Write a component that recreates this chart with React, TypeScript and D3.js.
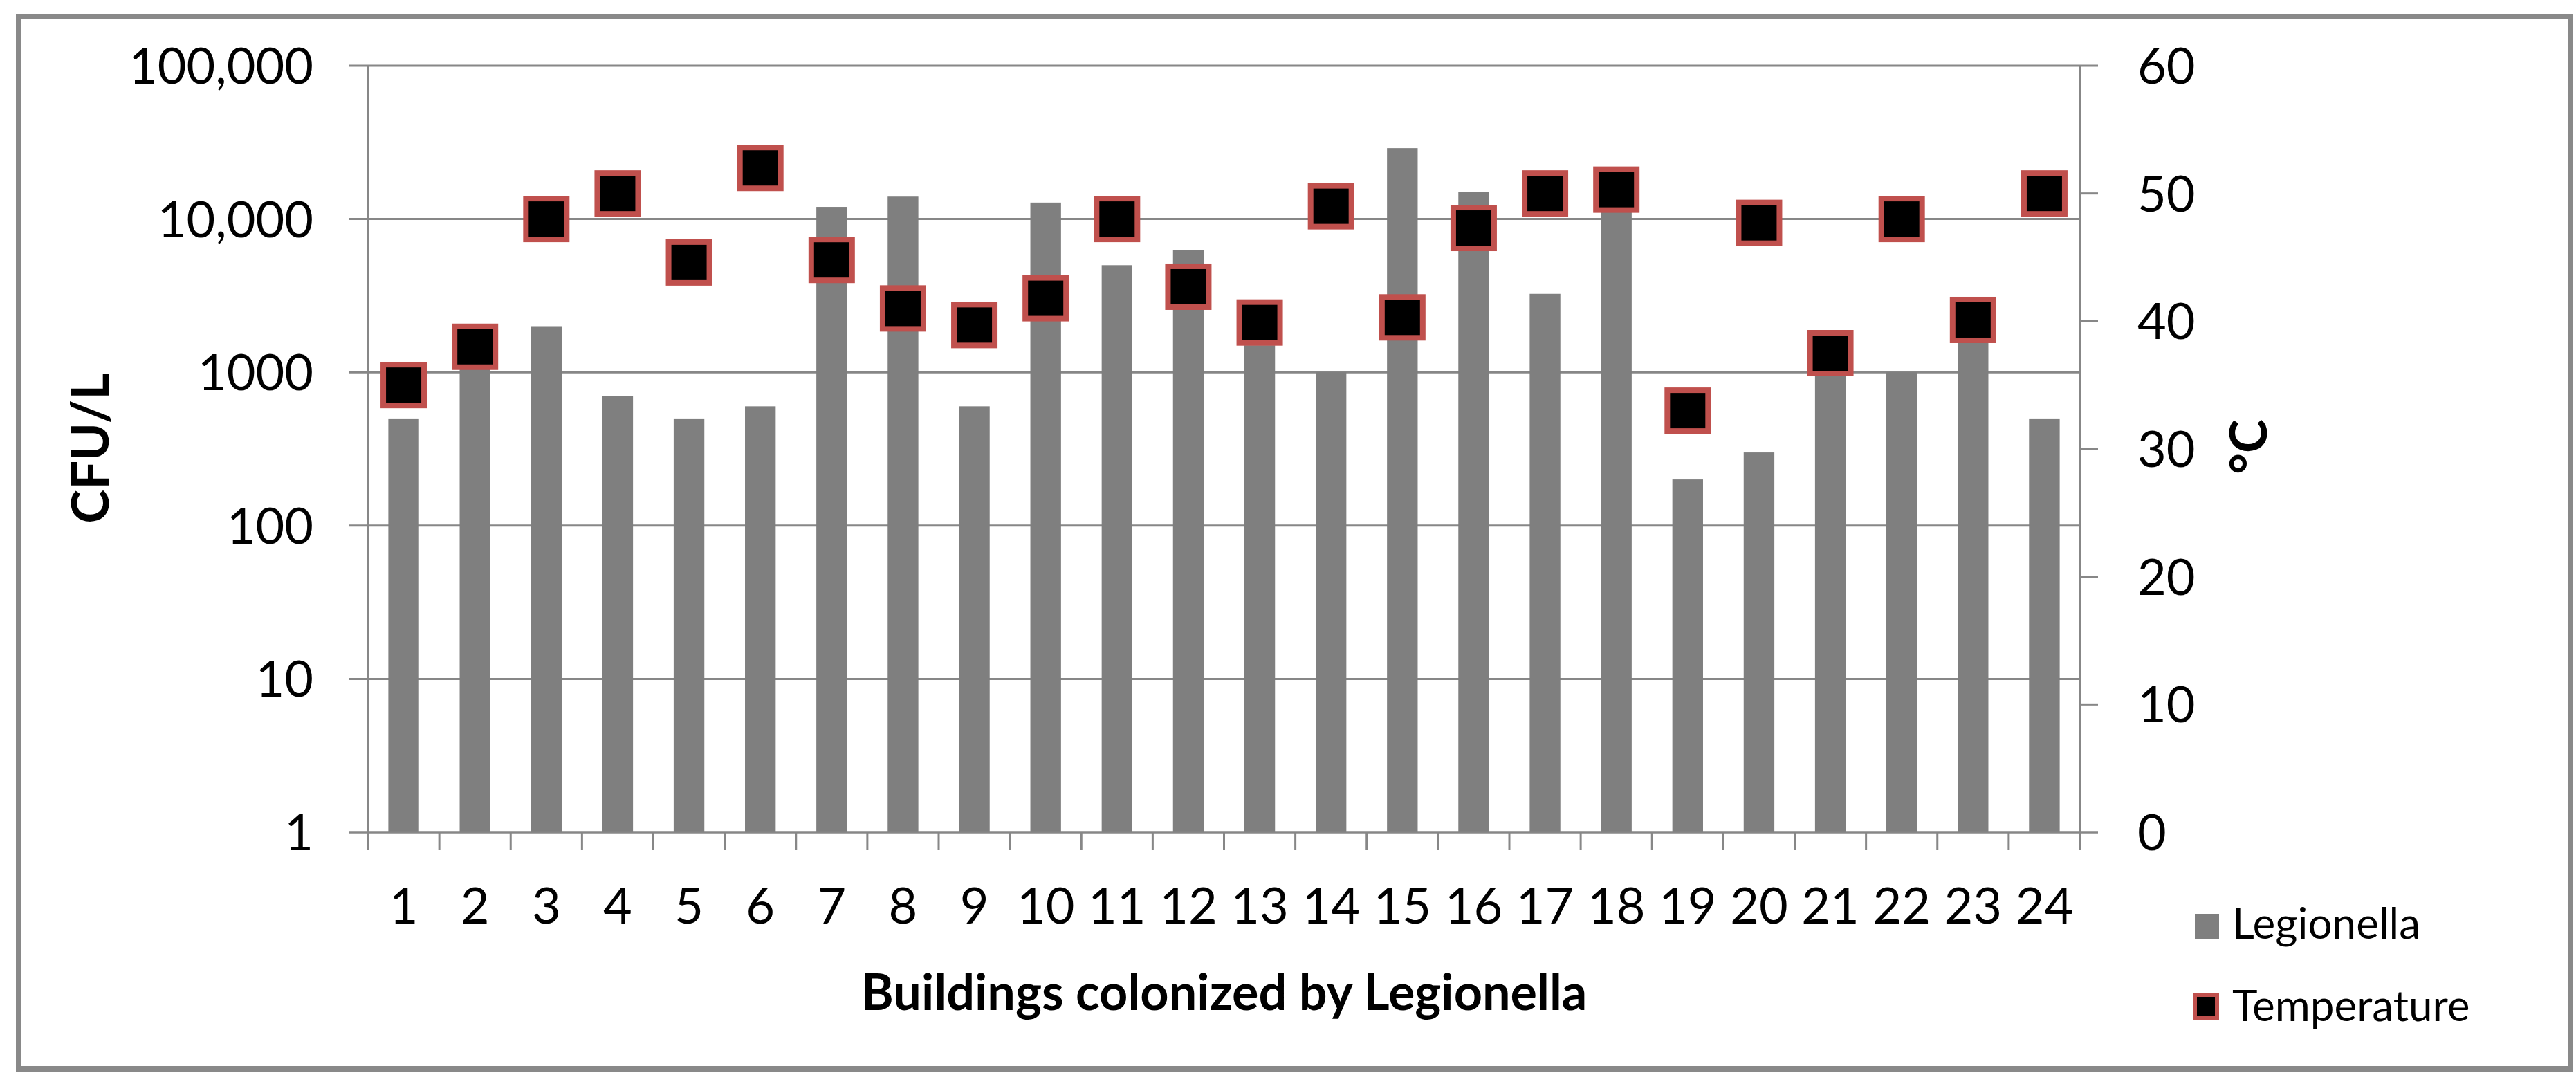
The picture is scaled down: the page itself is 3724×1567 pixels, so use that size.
import React, { useEffect, useRef } from 'react';
import * as d3 from 'd3';

// buildings 1..24
const buildings: string[] = d3.range(1, 25).map(String);
// Legionella counts (CFU/L)
const legionella: number[] = [
    500, 1200, 2000, 700, 500, 600, 12000, 14000, 600, 12800, 5000, 6300,
    1500, 1000, 29000, 15000, 3250, 16000, 200, 300, 1200, 1000, 2000, 500,
];
// water temperature (°C)
const temperature: number[] = [
    35, 38, 48, 50, 44.6, 52, 44.8, 41, 39.7, 41.8, 48, 42.7,
    39.9, 49, 40.3, 47.3, 50, 50.3, 33, 47.7, 37.5, 48, 40.1, 50,
];
const leftTicks: number[] = [1, 10, 100, 1000, 10000, 100000];
const leftTickLabels: string[] = ['1', '10', '100', '1000', '10,000', '100,000'];
const rightTicks: number[] = [0, 10, 20, 30, 40, 50, 60];

const W = 3724;
const H = 1567;
const FONT = 'Lato, "Open Sans", sans-serif';

const App: React.FC = () => {
    const svgRef = useRef<SVGSVGElement>(null);

    useEffect(() => {
        if (!svgRef.current) return;
        const svg = d3.select(svgRef.current);
        svg.selectAll('*').remove();

        const left = 532, right = 3007, top = 95, bottom = 1203;
        const grey = '#878787';

        const xStep = d3.scaleBand<string>().domain(buildings).range([left, right]).padding(0);
        const x = d3.scaleBand<string>().domain(buildings).range([left, right])
            .paddingInner(0.57).paddingOuter(0.285);
        const yLog = d3.scaleLog().domain([1, 100000]).range([bottom, top]);
        const yTemp = d3.scaleLinear().domain([0, 60]).range([bottom, top]);

        // outer frame
        svg.append('rect')
            .attr('x', 27).attr('y', 24).attr('width', 3689).attr('height', 1521)
            .attr('fill', 'white').attr('stroke', '#898989').attr('stroke-width', 8);

        // gridlines + left ticks
        const grid = svg.append('g');
        leftTicks.forEach((t, i) => {
            grid.append('line')
                .attr('x1', left - 27).attr('x2', right)
                .attr('y1', yLog(t)).attr('y2', yLog(t))
                .attr('stroke', grey).attr('stroke-width', 3);
            svg.append('text')
                .attr('x', 453).attr('y', yLog(t) + 26)
                .attr('text-anchor', 'end')
                .attr('font-family', FONT).attr('font-size', 72)
                .text(leftTickLabels[i]);
        });

        // bars
        svg.append('g').selectAll('rect')
            .data(legionella)
            .join('rect')
            .attr('x', (d, i) => x(buildings[i]) ?? 0)
            .attr('width', x.bandwidth())
            .attr('y', d => yLog(d))
            .attr('height', d => bottom - yLog(d))
            .attr('fill', '#7f7f7f');

        // axes lines
        svg.append('line').attr('x1', left).attr('x2', left).attr('y1', top).attr('y2', bottom + 26)
            .attr('stroke', grey).attr('stroke-width', 3);
        svg.append('line').attr('x1', right).attr('x2', right).attr('y1', top).attr('y2', bottom + 26)
            .attr('stroke', grey).attr('stroke-width', 3);
        svg.append('line').attr('x1', left - 27).attr('x2', right + 26).attr('y1', bottom).attr('y2', bottom)
            .attr('stroke', grey).attr('stroke-width', 3);

        // category ticks and labels
        buildings.forEach(b => {
            const x0 = xStep(b) ?? 0;
            svg.append('line').attr('x1', x0).attr('x2', x0).attr('y1', bottom).attr('y2', bottom + 26)
                .attr('stroke', grey).attr('stroke-width', 3);
            svg.append('text')
                .attr('x', x0 + xStep.bandwidth() / 2).attr('y', 1335)
                .attr('text-anchor', 'middle')
                .attr('font-family', FONT).attr('font-size', 72)
                .text(b);
        });

        // right axis
        rightTicks.forEach(t => {
            svg.append('line').attr('x1', right).attr('x2', right + 26)
                .attr('y1', yTemp(t)).attr('y2', yTemp(t))
                .attr('stroke', grey).attr('stroke-width', 3);
            svg.append('text')
                .attr('x', 3090).attr('y', yTemp(t) + 26)
                .attr('font-family', FONT).attr('font-size', 72)
                .text(t);
        });

        // temperature markers
        const m = 59;
        svg.append('g').selectAll('rect')
            .data(temperature)
            .join('rect')
            .attr('x', (d, i) => (xStep(buildings[i]) ?? 0) + xStep.bandwidth() / 2 - m / 2)
            .attr('y', d => yTemp(d) - m / 2)
            .attr('width', m).attr('height', m)
            .attr('fill', 'black')
            .attr('stroke', '#c0504d').attr('stroke-width', 8);

        // axis titles
        svg.append('text')
            .attr('x', (left + right) / 2).attr('y', 1460)
            .attr('text-anchor', 'middle')
            .attr('font-family', FONT).attr('font-size', 72).attr('font-weight', 'bold')
            .text('Buildings colonized by Legionella');
        svg.append('text')
            .attr('transform', 'translate(157,648) rotate(-90)')
            .attr('text-anchor', 'middle')
            .attr('font-family', FONT).attr('font-size', 74).attr('font-weight', 'bold')
            .text('CFU/L');
        svg.append('text')
            .attr('transform', 'translate(3277,646) rotate(-90)')
            .attr('text-anchor', 'middle')
            .attr('font-family', FONT).attr('font-size', 74).attr('font-weight', 'bold')
            .text('°C');

        // legend
        svg.append('rect').attr('x', 3173).attr('y', 1321).attr('width', 35).attr('height', 36)
            .attr('fill', '#7f7f7f');
        svg.append('text').attr('x', 3227).attr('y', 1357)
            .attr('font-family', FONT).attr('font-size', 62)
            .text('Legionella');
        svg.append('rect').attr('x', 3173).attr('y', 1438).attr('width', 32).attr('height', 33)
            .attr('fill', 'black').attr('stroke', '#c0504d').attr('stroke-width', 6);
        svg.append('text').attr('x', 3227).attr('y', 1476)
            .attr('font-family', FONT).attr('font-size', 62)
            .text('Temperature');
    }, []);

    return (
        <svg ref={svgRef} width={W} height={H}
            style={{ position: 'absolute', left: 0, top: 0, background: 'white' }} />
    );
};

export default App;
